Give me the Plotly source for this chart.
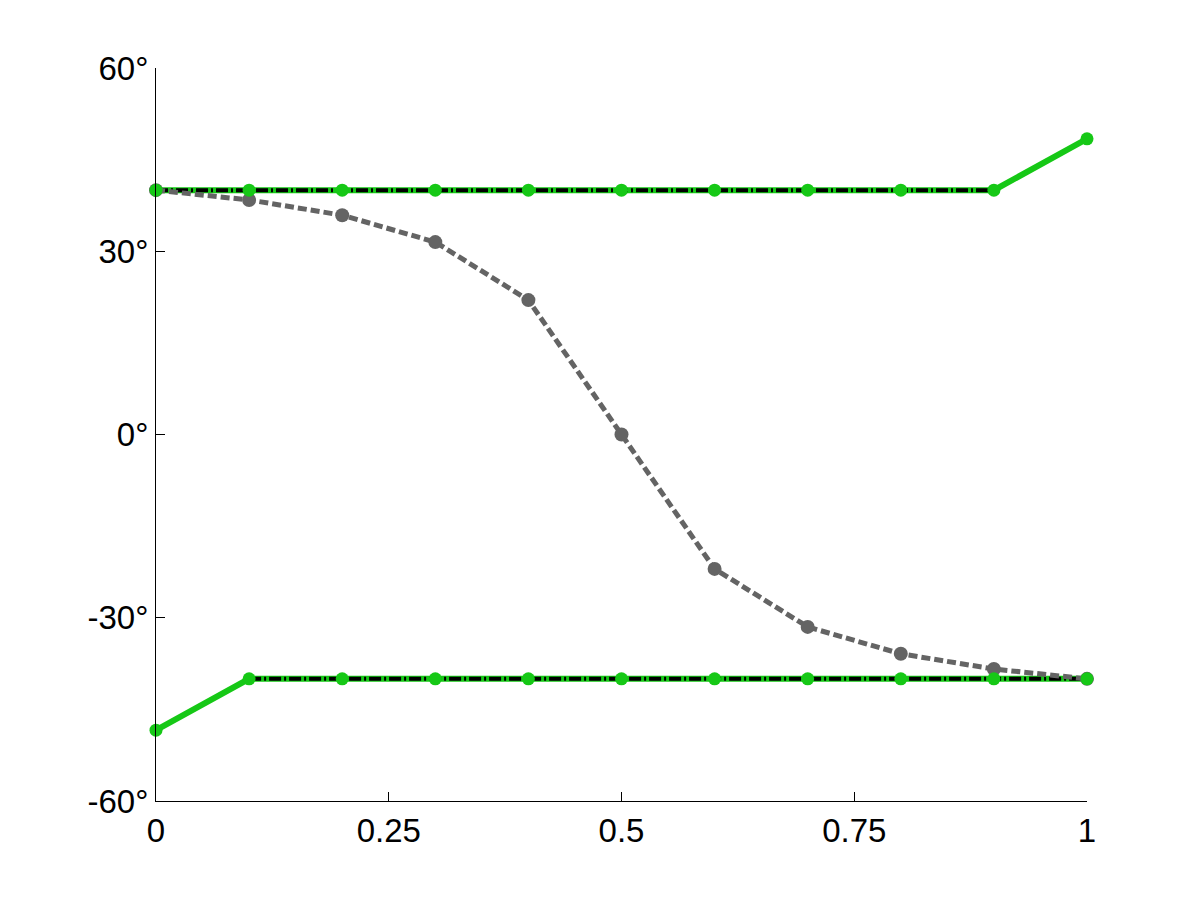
import plotly.graph_objects as go

x = [0, 0.1, 0.2, 0.3, 0.4, 0.5, 0.6, 0.7, 0.8, 0.9, 1.0]
gray_curve = [40, 38.4, 35.9, 31.5, 22.0, 0.0, -22.0, -31.5, -35.9, -38.4, -40]
green_top = [40, 40, 40, 40, 40, 40, 40, 40, 40, 40, 48.4]
green_bottom = [-48.4, -40, -40, -40, -40, -40, -40, -40, -40, -40, -40]
black_top_x = [0, 0.1, 0.2, 0.3, 0.4, 0.5, 0.6, 0.7, 0.8, 0.9]
black_top = [40, 40, 40, 40, 40, 40, 40, 40, 40, 40]
black_bottom_x = [0.1, 0.2, 0.3, 0.4, 0.5, 0.6, 0.7, 0.8, 0.9, 1.0]
black_bottom = [-40, -40, -40, -40, -40, -40, -40, -40, -40, -40]
x_ticks = [0, 0.25, 0.5, 0.75, 1]
x_labels = ["0", "0.25", "0.5", "0.75", "1"]
y_ticks = [-60, -30, 0, 30, 60]
y_labels = ["-60°", "-30°", "0°", "30°", "60°"]

GREEN = "rgb(22,200,22)"
GRAY = "rgb(100,100,100)"

fig = go.Figure()
for gy in (green_top, green_bottom):
    fig.add_trace(go.Scatter(x=x, y=gy, mode="lines", line=dict(color=GREEN, width=6),
                             cliponaxis=False))
for bx, by in ((black_top_x, black_top), (black_bottom_x, black_bottom)):
    fig.add_trace(go.Scatter(x=bx, y=by, mode="lines", cliponaxis=False,
                             line=dict(color="black", width=4, dash="12px,3px,2px,3px")))
fig.add_trace(go.Scatter(x=x, y=gray_curve, mode="lines+markers", cliponaxis=False,
                         line=dict(color=GRAY, width=5, dash="9px,4px"),
                         marker=dict(color=GRAY, size=14)))
for gy in (green_top, green_bottom):
    fig.add_trace(go.Scatter(x=x, y=gy, mode="markers", cliponaxis=False,
                             marker=dict(color=GREEN, size=13)))

fig.update_layout(
    width=1185, height=885,
    margin=dict(l=148, r=106, t=60, b=92),
    plot_bgcolor="white", paper_bgcolor="white",
    showlegend=False,
    font=dict(family="Liberation Sans, Arial, sans-serif", size=33, color="black"),
)
fig.update_xaxes(range=[0, 1], tickvals=x_ticks, ticktext=x_labels,
                 showgrid=False, zeroline=False, showline=True, linecolor="black",
                 linewidth=1, ticks="inside", ticklen=9, tickcolor="black",
                 tickfont=dict(size=33))
fig.update_yaxes(range=[-60, 60], tickvals=y_ticks, ticktext=y_labels,
                 showgrid=False, zeroline=False, showline=True, linecolor="black",
                 linewidth=1, ticks="inside", ticklen=9, tickcolor="black",
                 tickfont=dict(size=33))

fig.write_html("out.html")
